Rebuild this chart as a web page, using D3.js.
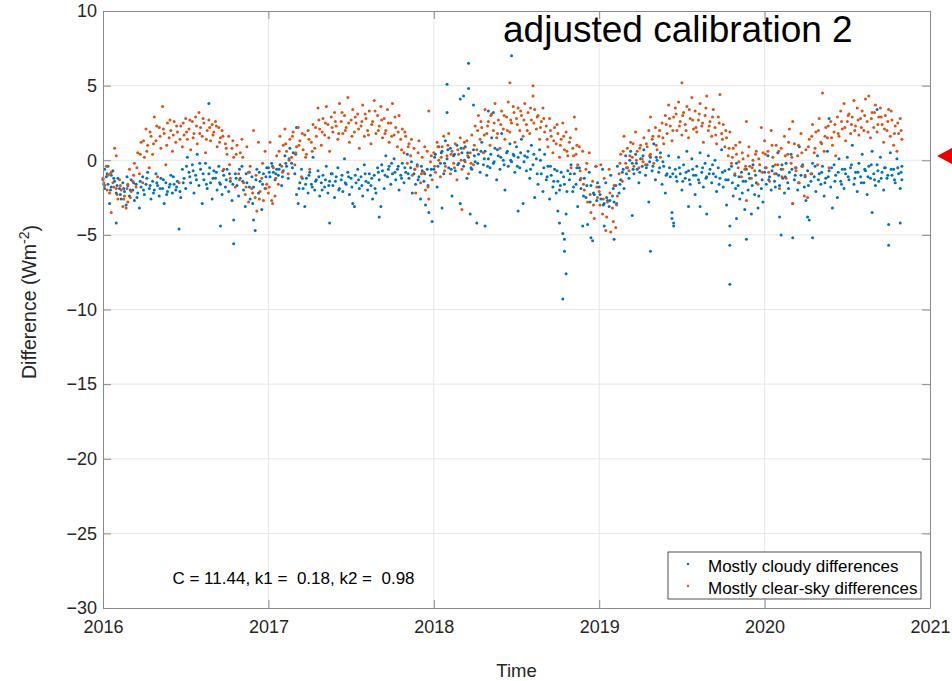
<!DOCTYPE html>
<meta charset="utf-8">

<!-- Load d3.js -->
<script src="https://d3js.org/d3.v7.min.js"></script>

<style>
body { margin: 0; background: #fff; }
svg text { font-family: "Liberation Sans", Arial, sans-serif; }
</style>

<div id="my_dataviz"></div>

<script>

// axis ticks
var xTicks = [2016, 2017, 2018, 2019, 2020, 2021];
var yTicks = [10, 5, 0, -5, -10, -15, -20, -25, -30];

// each point is [fraction of the year, difference in W m-2]
var cloudy2016 = [[0.00,-1.3],[0.01,-0.6],[0.01,-1.9],[0.02,-1.1],[0.03,-0.4],[0.03,-1.6],[0.04,-2.9],[0.05,-1.0],[0.05,-1.8],[0.06,-0.7],[0.07,-1.4],[0.08,-4.2],[0.08,-2.2],[0.09,-1.2],[0.10,-1.9],[0.11,-2.6],[0.12,-1.5],[0.13,-2.1],[0.14,-3.0],[0.15,-1.7],[0.16,-2.4],[0.17,-1.3],[0.18,-2.0],[0.19,-2.7],[0.20,-1.6],[0.21,-2.2],[0.22,-3.2],[0.23,-1.8],[0.24,-1.1],[0.25,-2.3],[0.26,-1.6],[0.27,-0.8],[0.28,-1.9],[0.29,-2.6],[0.30,-1.4],[0.31,-2.0],[0.32,-0.9],[0.33,-1.7],[0.34,-2.4],[0.35,-1.2],[0.36,-1.9],[0.37,-2.9],[0.38,-1.5],[0.39,-2.1],[0.40,-1.8],[0.41,-1.0],[0.42,-2.2],[0.43,-1.6],[0.44,-2.0],[0.45,-1.4],[0.46,-4.6],[0.47,-2.5],[0.48,-0.6],[0.49,-1.2],[0.50,-1.9],[0.51,0.2],[0.52,-0.8],[0.53,-1.5],[0.54,-0.3],[0.55,-2.2],[0.56,-1.0],[0.57,0.4],[0.58,-1.7],[0.59,-0.6],[0.60,-2.9],[0.61,-1.3],[0.62,-0.2],[0.63,-1.9],[0.64,3.8],[0.64,-0.9],[0.65,-1.5],[0.66,-2.6],[0.67,-0.7],[0.68,-1.2],[0.69,-2.0],[0.70,-0.4],[0.71,-4.4],[0.71,-1.6],[0.72,-2.3],[0.73,-1.0],[0.74,-1.8],[0.75,-0.6],[0.76,-2.1],[0.77,-1.4],[0.78,-2.7],[0.79,-5.6],[0.79,-4.0],[0.80,-0.9],[0.81,-1.7],[0.82,-2.4],[0.83,-1.2],[0.84,-0.4],[0.85,-2.0],[0.86,-3.1],[0.87,-1.5],[0.88,-0.8],[0.89,-2.6],[0.90,-1.1],[0.91,-4.0],[0.91,-1.8],[0.92,-4.7],[0.93,-0.6],[0.94,-2.2],[0.95,-1.4],[0.96,-3.3],[0.97,-0.9],[0.98,-1.9],[0.99,-0.5]];
var cloudy2016b = [[0.005,-1.6],[0.025,-0.9],[0.045,-2.0],[0.065,-1.2],[0.085,-1.7],[0.105,-2.3],[0.125,-1.9],[0.145,-1.1],[0.165,-2.0],[0.185,-1.5],[0.205,-2.5],[0.225,-1.4],[0.245,-2.0],[0.265,-1.2],[0.285,-1.7],[0.305,-2.2],[0.325,-1.5],[0.345,-1.9],[0.365,-1.3],[0.385,-2.3],[0.405,-1.6],[0.425,-1.1],[0.445,-1.8],[0.465,-2.1],[0.485,-1.5],[0.505,-0.4],[0.525,-1.1],[0.545,-0.7],[0.565,-1.3],[0.585,-0.2],[0.605,-0.9],[0.625,-1.6],[0.645,-0.5],[0.665,-1.2],[0.685,-0.8],[0.705,-1.5],[0.725,-0.7],[0.745,-1.3],[0.765,-0.9],[0.785,-1.6],[0.805,-1.2],[0.825,-0.6],[0.845,-1.4],[0.865,-0.9],[0.885,-1.8],[0.905,-2.9],[0.925,-1.3],[0.945,-0.8],[0.965,-1.6],[0.985,-1.1]];
var cloudy2017 = [[0.00,-0.5],[0.01,-1.1],[0.02,-0.2],[0.03,-0.8],[0.04,-1.3],[0.05,-0.6],[0.06,-1.0],[0.07,-0.3],[0.08,-1.7],[0.09,-0.7],[0.10,0.3],[0.11,-0.4],[0.12,-1.2],[0.13,0.8],[0.14,-0.2],[0.15,0.5],[0.16,-0.9],[0.17,2.2],[0.17,-2.3],[0.18,-2.9],[0.19,-1.5],[0.20,-0.6],[0.21,-1.9],[0.22,-3.1],[0.23,-1.2],[0.24,-2.2],[0.25,-0.8],[0.26,-1.6],[0.27,0.2],[0.28,-2.0],[0.29,-1.3],[0.30,-0.7],[0.31,-2.4],[0.32,-1.5],[0.33,-1.0],[0.34,-1.8],[0.35,-0.4],[0.36,-2.2],[0.37,-4.2],[0.37,-1.4],[0.38,-0.9],[0.39,-1.7],[0.40,-2.5],[0.41,-1.1],[0.42,-0.5],[0.43,-1.9],[0.44,-1.3],[0.45,-2.1],[0.46,0.1],[0.47,-1.6],[0.48,-0.8],[0.49,-2.3],[0.50,-1.2],[0.51,-2.9],[0.52,-3.1],[0.53,-1.5],[0.54,-0.6],[0.55,-1.9],[0.56,-1.1],[0.57,-2.4],[0.58,-0.3],[0.59,-1.4],[0.60,-2.0],[0.61,-0.9],[0.62,-1.7],[0.63,-2.6],[0.64,-1.0],[0.65,-2.2],[0.66,-0.5],[0.67,-3.8],[0.67,-1.3],[0.68,-3.1],[0.69,-0.7],[0.70,-1.9],[0.71,0.3],[0.72,-1.1],[0.73,-0.4],[0.74,-1.6],[0.75,-0.9],[0.76,0.1],[0.77,-1.3],[0.78,-0.6],[0.79,-2.0],[0.80,-1.0],[0.81,-0.2],[0.82,-1.5],[0.83,-0.8],[0.84,0.4],[0.85,-1.2],[0.86,-0.5],[0.87,-2.2],[0.88,-0.9],[0.89,-1.6],[0.90,-0.3],[0.91,-1.1],[0.92,-2.6],[0.93,-0.7],[0.94,-1.4],[0.95,-3.0],[0.96,-0.6],[0.97,-3.5],[0.98,-1.0],[0.99,-4.1]];
var cloudy2017b = [[0.005,-0.8],[0.025,-0.4],[0.045,-0.9],[0.065,-0.6],[0.085,-1.1],[0.105,-0.2],[0.125,0.1],[0.145,-0.5],[0.165,0.4],[0.185,-1.9],[0.205,-1.2],[0.225,-1.6],[0.245,-1.0],[0.265,-1.8],[0.285,-1.4],[0.305,-1.1],[0.325,-2.0],[0.345,-1.3],[0.365,-1.7],[0.385,-0.9],[0.405,-1.4],[0.425,-2.0],[0.445,-1.0],[0.465,-1.5],[0.485,-1.1],[0.505,-1.8],[0.525,-1.0],[0.545,-1.3],[0.565,-1.7],[0.585,-0.9],[0.605,-1.5],[0.625,-1.2],[0.645,-1.9],[0.665,-0.8],[0.685,-0.3],[0.705,-1.0],[0.725,-0.6],[0.745,-0.2],[0.765,-0.8],[0.785,-0.4],[0.805,-1.2],[0.825,-0.5],[0.845,-0.9],[0.865,-0.1],[0.885,-0.6],[0.905,-1.3],[0.925,-0.4],[0.945,-0.9],[0.965,-1.7],[0.985,-0.6]];
var cloudy2018 = [[0.00,-0.6],[0.01,0.4],[0.02,-1.8],[0.03,0.9],[0.04,-0.2],[0.05,-3.2],[0.05,0.6],[0.06,-0.9],[0.07,1.3],[0.08,5.1],[0.08,3.2],[0.08,0.1],[0.09,-0.5],[0.10,0.8],[0.11,-2.4],[0.12,0.3],[0.13,-0.7],[0.14,1.0],[0.15,-0.2],[0.16,4.1],[0.16,-2.9],[0.17,0.5],[0.18,4.3],[0.18,-0.4],[0.19,0.9],[0.20,-1.2],[0.21,6.5],[0.21,4.8],[0.21,0.2],[0.22,-3.6],[0.23,-0.6],[0.24,3.7],[0.24,0.7],[0.25,-0.1],[0.26,-4.2],[0.27,0.4],[0.28,-0.8],[0.29,1.2],[0.30,-0.3],[0.31,-4.4],[0.31,0.6],[0.32,-1.0],[0.33,3.3],[0.33,0.1],[0.34,-0.5],[0.35,1.5],[0.36,3.2],[0.36,-0.2],[0.37,0.8],[0.38,-1.3],[0.39,0.3],[0.40,-0.6],[0.41,1.8],[0.42,0.0],[0.43,-2.0],[0.44,0.5],[0.45,-0.4],[0.46,1.1],[0.47,7.0],[0.47,-0.1],[0.48,0.4],[0.49,-0.8],[0.50,0.9],[0.51,-3.4],[0.51,0.2],[0.52,-0.5],[0.53,1.4],[0.54,-2.9],[0.55,0.3],[0.56,-0.7],[0.57,0.6],[0.58,-1.2],[0.59,1.0],[0.60,-0.3],[0.61,-2.5],[0.62,0.1],[0.63,-1.6],[0.64,0.7],[0.65,-0.9],[0.66,-2.1],[0.67,0.4],[0.68,-1.3],[0.69,-0.4],[0.70,-2.6],[0.71,-1.0],[0.72,-1.8],[0.73,-0.6],[0.74,-2.2],[0.75,-3.4],[0.75,-1.4],[0.76,-4.2],[0.76,-2.0],[0.77,-0.8],[0.78,-4.9],[0.78,-9.3],[0.79,-5.3],[0.79,-6.1],[0.79,-1.6],[0.80,-7.6],[0.80,-3.6],[0.81,-0.7],[0.82,-1.3],[0.83,-0.3],[0.84,-2.1],[0.85,-0.9],[0.86,-1.6],[0.87,-3.1],[0.88,-0.5],[0.89,-1.9],[0.90,-4.4],[0.91,-1.2],[0.92,-2.5],[0.93,-4.3],[0.94,-0.8],[0.95,-5.2],[0.95,-1.7],[0.96,-5.4],[0.97,-2.3],[0.98,-0.4],[0.99,-1.5]];
var cloudy2018b = [[0.005,0.2],[0.025,-0.4],[0.045,0.5],[0.065,-0.2],[0.085,0.7],[0.105,-0.6],[0.125,0.4],[0.145,-0.3],[0.165,0.8],[0.185,0.0],[0.205,0.5],[0.225,-0.5],[0.245,0.3],[0.265,-0.2],[0.285,0.6],[0.305,0.1],[0.325,-0.4],[0.345,0.4],[0.365,-0.1],[0.385,0.7],[0.405,0.2],[0.425,-0.3],[0.445,0.6],[0.465,0.0],[0.485,0.3],[0.505,-0.4],[0.525,0.5],[0.545,-0.1],[0.565,0.2],[0.585,-0.6],[0.605,0.4],[0.625,-0.9],[0.645,0.0],[0.665,-0.5],[0.685,-1.1],[0.705,-0.4],[0.725,-1.4],[0.745,-0.7],[0.765,-1.7],[0.785,-1.1],[0.805,-2.1],[0.825,-0.9],[0.845,-1.8],[0.865,-0.5],[0.885,-1.3],[0.905,-2.4],[0.925,-1.7],[0.945,-2.8],[0.965,-2.2],[0.985,-2.7]];
var cloudy2019 = [[0.00,-1.8],[0.01,-2.6],[0.02,-0.6],[0.03,-4.4],[0.03,-2.9],[0.04,-1.5],[0.05,-2.7],[0.06,-3.1],[0.07,-1.0],[0.08,-2.4],[0.09,-5.3],[0.09,-2.8],[0.10,-1.7],[0.11,-0.4],[0.12,-2.2],[0.13,-1.3],[0.14,-0.8],[0.15,-1.9],[0.16,0.3],[0.17,-0.5],[0.18,-1.2],[0.19,0.6],[0.20,-3.7],[0.20,-0.2],[0.21,-0.9],[0.22,0.4],[0.23,-0.6],[0.24,-1.5],[0.25,0.1],[0.26,-0.4],[0.27,0.7],[0.28,-1.0],[0.29,-0.3],[0.30,-2.8],[0.31,-6.1],[0.31,0.2],[0.32,-0.7],[0.33,1.1],[0.34,-1.3],[0.35,0.0],[0.36,-0.8],[0.37,0.5],[0.38,-1.6],[0.39,-0.4],[0.40,-2.2],[0.41,-0.9],[0.42,0.3],[0.43,-1.1],[0.44,-3.5],[0.44,-3.9],[0.45,-4.2],[0.45,-4.4],[0.46,-0.6],[0.47,-1.4],[0.48,0.2],[0.49,-0.9],[0.50,-2.0],[0.51,-0.3],[0.52,-1.2],[0.53,0.6],[0.54,-3.1],[0.54,-0.7],[0.55,-1.6],[0.56,0.1],[0.57,-1.0],[0.58,-2.3],[0.59,-0.4],[0.60,-1.3],[0.61,-3.1],[0.61,0.5],[0.62,-0.8],[0.63,-1.8],[0.64,-0.2],[0.65,-3.6],[0.65,-1.1],[0.66,0.3],[0.67,-0.6],[0.68,-1.5],[0.69,-0.9],[0.70,0.0],[0.71,-2.1],[0.72,-0.5],[0.73,-1.2],[0.74,0.7],[0.75,-1.8],[0.76,-0.7],[0.77,-3.0],[0.78,-1.3],[0.79,-4.4],[0.79,-5.7],[0.79,-8.3],[0.80,-0.4],[0.81,-2.4],[0.82,-1.0],[0.83,-3.9],[0.83,-0.2],[0.84,-1.7],[0.85,-2.6],[0.86,-0.8],[0.87,-1.4],[0.88,-3.3],[0.89,-5.3],[0.89,-0.6],[0.90,-2.0],[0.91,-1.2],[0.92,-3.6],[0.93,-0.3],[0.94,-2.3],[0.95,-1.5],[0.96,-3.2],[0.97,-0.7],[0.98,-1.9],[0.99,-2.8]];
var cloudy2019b = [[0.005,-2.3],[0.025,-3.0],[0.045,-2.5],[0.065,-2.7],[0.085,-1.9],[0.105,-2.9],[0.125,-1.6],[0.145,-0.6],[0.165,-0.9],[0.185,0.0],[0.205,-0.6],[0.225,-0.2],[0.245,-0.8],[0.265,0.3],[0.285,-0.5],[0.305,-0.1],[0.325,-0.4],[0.345,0.2],[0.365,-0.5],[0.385,-0.1],[0.405,-1.0],[0.425,-0.5],[0.445,-0.9],[0.465,-1.1],[0.485,-0.5],[0.505,-1.4],[0.525,-0.8],[0.545,-1.3],[0.565,-0.6],[0.585,-1.0],[0.605,-1.5],[0.625,-0.5],[0.645,-1.2],[0.665,-0.9],[0.685,-0.3],[0.705,-1.1],[0.725,-1.6],[0.745,-0.8],[0.765,-1.3],[0.785,-0.6],[0.805,-1.5],[0.825,-1.9],[0.845,-1.1],[0.865,-2.2],[0.885,-1.4],[0.905,-0.9],[0.925,-1.7],[0.945,-1.0],[0.965,-2.4],[0.985,-1.3]];
var cloudy2020 = [[0.00,-0.8],[0.01,-1.6],[0.02,0.3],[0.03,-1.1],[0.04,-2.0],[0.05,-0.4],[0.06,-1.4],[0.07,-0.9],[0.08,0.5],[0.09,-3.8],[0.09,-1.7],[0.10,-5.0],[0.10,-0.6],[0.11,-1.2],[0.12,-2.2],[0.13,-0.2],[0.14,-1.5],[0.15,-0.8],[0.16,0.4],[0.17,-2.9],[0.17,-5.2],[0.18,-1.3],[0.19,-0.5],[0.20,-2.0],[0.21,0.9],[0.22,-1.0],[0.23,-0.3],[0.24,-1.8],[0.25,-2.7],[0.26,-3.8],[0.26,-0.7],[0.27,-4.0],[0.28,-1.4],[0.29,-5.2],[0.29,-0.2],[0.30,-1.1],[0.31,-2.1],[0.32,0.3],[0.33,-0.9],[0.34,-1.6],[0.35,-0.4],[0.36,-2.4],[0.37,-1.2],[0.38,0.6],[0.39,2.8],[0.39,-0.7],[0.40,-1.8],[0.41,-3.2],[0.42,-0.3],[0.43,-1.0],[0.44,-2.5],[0.45,0.1],[0.46,-1.4],[0.47,-0.6],[0.48,-1.9],[0.49,-0.9],[0.50,0.2],[0.51,-1.3],[0.52,-0.5],[0.53,1.0],[0.54,-1.6],[0.55,-0.8],[0.56,-2.1],[0.57,-0.2],[0.58,-1.1],[0.59,0.4],[0.60,-1.5],[0.61,-0.7],[0.62,-2.3],[0.63,-0.4],[0.64,-1.2],[0.65,-3.5],[0.65,0.6],[0.66,-0.9],[0.67,-1.7],[0.68,3.4],[0.68,-0.3],[0.69,-1.4],[0.70,0.2],[0.71,-0.8],[0.72,-2.0],[0.73,-0.5],[0.74,-1.2],[0.75,-4.3],[0.75,-5.7],[0.76,0.5],[0.77,-1.0],[0.78,-0.6],[0.79,-1.5],[0.80,0.1],[0.81,-0.9],[0.82,-4.2],[0.82,-1.9],[0.83,-0.4],[0.83,-1.3]];
var cloudy2020b = [[0.005,-0.5],[0.025,-1.3],[0.045,-0.7],[0.065,-1.8],[0.085,-1.0],[0.105,-0.3],[0.125,-1.1],[0.145,-1.9],[0.165,-0.6],[0.185,-1.0],[0.205,-1.5],[0.225,-0.4],[0.245,-1.1],[0.265,-1.7],[0.285,-0.9],[0.305,-0.4],[0.325,-1.3],[0.345,-0.8],[0.365,-1.5],[0.385,-1.1],[0.405,-0.5],[0.425,-1.4],[0.445,-0.8],[0.465,-1.6],[0.485,-0.6],[0.505,-1.1],[0.525,-0.3],[0.545,-1.2],[0.565,-0.8],[0.585,-1.5],[0.605,-0.6],[0.625,-1.1],[0.645,-0.3],[0.665,-1.3],[0.685,-0.7],[0.705,-1.2],[0.725,-0.5],[0.745,-1.0],[0.765,-0.6],[0.785,-1.3],[0.805,-0.5],[0.825,-0.8]];

var clear2016 = [[0.00,-1.2],[0.01,-1.7],[0.02,-0.4],[0.03,-1.0],[0.04,-2.2],[0.05,-3.5],[0.05,-0.8],[0.06,-1.5],[0.07,0.8],[0.08,0.3],[0.08,-1.9],[0.09,-2.6],[0.10,-1.3],[0.11,-2.0],[0.12,-3.1],[0.13,-2.4],[0.14,-3.2],[0.15,-2.8],[0.15,-1.6],[0.16,-0.6],[0.17,-2.1],[0.18,-1.4],[0.19,-0.2],[0.20,-1.8],[0.21,0.5],[0.22,-0.9],[0.23,1.2],[0.24,-1.5],[0.25,0.2],[0.26,2.1],[0.27,1.0],[0.28,-0.5],[0.29,1.6],[0.30,0.4],[0.31,2.9],[0.32,1.3],[0.33,-1.1],[0.34,2.2],[0.35,0.8],[0.36,3.6],[0.37,1.8],[0.38,-0.3],[0.39,2.5],[0.40,1.5],[0.41,2.0],[0.42,0.6],[0.43,2.6],[0.44,1.2],[0.45,1.9],[0.46,-1.5],[0.47,2.3],[0.48,0.9],[0.49,1.7],[0.50,2.8],[0.51,1.4],[0.52,2.1],[0.53,0.7],[0.54,2.6],[0.55,1.8],[0.56,2.9],[0.57,1.1],[0.58,3.2],[0.59,2.2],[0.60,1.6],[0.61,2.5],[0.62,0.5],[0.63,2.0],[0.64,2.7],[0.65,1.3],[0.66,2.4],[0.67,1.9],[0.68,2.6],[0.69,0.9],[0.70,2.2],[0.71,1.5],[0.72,2.0],[0.73,-0.6],[0.74,1.1],[0.75,0.4],[0.76,1.6],[0.77,-1.2],[0.78,0.8],[0.79,0.2],[0.80,-1.8],[0.81,1.0],[0.82,-0.9],[0.83,0.5],[0.84,1.4],[0.85,-1.5],[0.86,-2.3],[0.87,0.9],[0.88,-2.8],[0.89,-0.4],[0.90,-1.9],[0.91,2.0],[0.92,-2.5],[0.93,-3.4],[0.94,1.2],[0.95,-2.1],[0.96,-1.2],[0.97,-2.7],[0.98,0.6],[0.99,-1.6]];
var clear2016b = [[0.005,-1.5],[0.025,-2.0],[0.045,-0.9],[0.065,-1.8],[0.085,-2.3],[0.105,-1.7],[0.125,-2.6],[0.145,-1.9],[0.165,-2.5],[0.185,-1.0],[0.205,-0.5],[0.225,0.4],[0.245,1.3],[0.265,0.6],[0.285,1.9],[0.305,1.1],[0.325,2.3],[0.345,1.6],[0.365,2.1],[0.385,1.0],[0.405,2.7],[0.425,1.7],[0.445,2.3],[0.465,1.4],[0.485,2.5],[0.505,1.9],[0.525,2.7],[0.545,1.5],[0.565,2.3],[0.585,1.8],[0.605,2.8],[0.625,1.4],[0.645,2.2],[0.665,1.7],[0.685,2.3],[0.705,1.2],[0.725,1.6],[0.745,0.8],[0.765,-0.3],[0.785,1.3],[0.805,0.4],[0.825,-1.3],[0.845,0.2],[0.865,-1.8],[0.885,-0.8],[0.905,-2.2],[0.925,-1.0],[0.945,-2.6],[0.965,-0.2],[0.985,-1.9]];
var clear2017 = [[0.00,-2.2],[0.01,1.2],[0.02,-2.7],[0.03,-0.5],[0.04,-2.4],[0.05,0.3],[0.06,-1.6],[0.07,1.6],[0.08,-0.4],[0.09,1.0],[0.10,2.1],[0.11,0.6],[0.12,-0.9],[0.13,1.4],[0.14,0.2],[0.15,1.9],[0.16,-0.3],[0.17,0.9],[0.18,2.2],[0.19,1.3],[0.20,-1.1],[0.21,0.7],[0.22,1.7],[0.23,0.4],[0.24,2.0],[0.25,-0.6],[0.26,1.2],[0.27,2.4],[0.28,0.8],[0.29,1.6],[0.30,3.5],[0.31,2.1],[0.32,1.0],[0.33,2.8],[0.34,1.7],[0.35,3.6],[0.36,2.4],[0.37,0.6],[0.38,2.9],[0.39,1.9],[0.40,3.2],[0.41,2.3],[0.42,1.4],[0.43,3.8],[0.44,2.6],[0.45,1.8],[0.46,3.0],[0.47,2.2],[0.48,4.2],[0.49,1.2],[0.50,2.7],[0.51,3.4],[0.52,1.9],[0.53,2.5],[0.54,3.1],[0.55,0.8],[0.56,2.3],[0.57,3.7],[0.58,1.6],[0.59,2.8],[0.60,2.0],[0.61,3.3],[0.62,1.1],[0.63,2.6],[0.64,4.0],[0.65,1.8],[0.66,3.0],[0.67,2.3],[0.68,3.6],[0.69,1.5],[0.70,2.8],[0.71,2.0],[0.72,3.4],[0.73,1.2],[0.74,2.5],[0.75,3.8],[0.76,1.7],[0.77,2.2],[0.78,0.9],[0.79,3.0],[0.80,1.4],[0.81,2.1],[0.82,0.5],[0.83,1.6],[0.84,-0.2],[0.85,1.1],[0.86,0.3],[0.87,-1.0],[0.88,0.8],[0.89,-2.2],[0.90,-0.4],[0.91,1.3],[0.92,-1.5],[0.93,0.2],[0.94,-0.8],[0.95,-2.0],[0.96,0.6],[0.97,3.3],[0.97,-2.6],[0.98,-0.1],[0.99,-1.3]];
var clear2017b = [[0.005,-1.8],[0.025,-2.9],[0.045,-1.2],[0.065,0.6],[0.085,-0.8],[0.105,1.1],[0.125,0.0],[0.145,1.6],[0.165,0.5],[0.185,1.0],[0.205,1.8],[0.225,0.2],[0.245,1.4],[0.265,0.6],[0.285,2.2],[0.305,2.7],[0.325,1.9],[0.345,2.5],[0.365,1.5],[0.385,2.2],[0.405,2.6],[0.425,1.8],[0.445,3.2],[0.465,2.0],[0.485,2.5],[0.505,1.6],[0.525,2.9],[0.545,2.1],[0.565,2.6],[0.585,3.1],[0.605,1.7],[0.625,2.4],[0.645,3.3],[0.665,2.0],[0.685,2.7],[0.705,1.8],[0.725,2.5],[0.745,1.6],[0.765,2.9],[0.785,1.9],[0.805,0.7],[0.825,1.9],[0.845,0.9],[0.865,1.4],[0.885,-0.6],[0.905,0.5],[0.925,-0.9],[0.945,0.9],[0.965,-1.8],[0.985,0.3]];
var clear2018 = [[0.00,0.5],[0.01,-0.8],[0.02,1.2],[0.03,0.0],[0.04,-1.1],[0.05,0.9],[0.06,1.6],[0.07,-0.4],[0.08,0.3],[0.09,1.8],[0.10,-0.9],[0.11,0.6],[0.12,-0.2],[0.13,1.1],[0.14,-1.3],[0.15,0.4],[0.16,1.5],[0.17,-3.3],[0.17,-0.6],[0.18,0.8],[0.19,-0.1],[0.20,1.3],[0.21,-0.9],[0.22,0.5],[0.23,1.7],[0.24,-0.3],[0.25,2.3],[0.26,0.7],[0.27,3.0],[0.28,1.4],[0.29,2.2],[0.30,0.5],[0.31,3.4],[0.32,1.8],[0.33,2.6],[0.34,1.0],[0.35,3.1],[0.36,2.0],[0.37,3.8],[0.38,1.5],[0.39,2.7],[0.40,0.8],[0.41,3.3],[0.42,2.1],[0.43,1.4],[0.44,2.9],[0.45,3.9],[0.46,5.2],[0.46,1.9],[0.47,2.5],[0.48,3.6],[0.49,1.2],[0.50,2.8],[0.51,3.5],[0.52,2.0],[0.53,3.0],[0.54,1.6],[0.55,3.8],[0.56,2.4],[0.57,3.2],[0.58,1.8],[0.59,2.7],[0.60,5.0],[0.60,4.3],[0.61,3.4],[0.62,2.1],[0.63,3.0],[0.64,1.4],[0.65,2.6],[0.66,3.5],[0.67,1.9],[0.68,2.3],[0.69,0.9],[0.70,2.8],[0.71,1.6],[0.72,0.5],[0.73,2.2],[0.74,1.1],[0.75,1.8],[0.76,0.2],[0.77,1.4],[0.78,2.5],[0.79,0.7],[0.80,1.9],[0.81,0.3],[0.82,1.2],[0.83,-0.5],[0.84,0.8],[0.85,2.9],[0.86,2.1],[0.86,0.4],[0.87,-0.3],[0.88,0.9],[0.89,-1.2],[0.90,0.6],[0.91,-2.0],[0.92,-0.6],[0.93,-2.8],[0.94,0.5],[0.95,-3.5],[0.96,-1.4],[0.97,-3.9],[0.98,-0.4],[0.99,-2.5]];
var clear2018b = [[0.005,-0.4],[0.025,0.9],[0.045,0.2],[0.065,-0.7],[0.085,1.0],[0.105,0.4],[0.125,-0.5],[0.145,0.7],[0.165,0.0],[0.185,1.2],[0.205,0.3],[0.225,-0.2],[0.245,1.0],[0.265,2.0],[0.285,2.6],[0.305,1.7],[0.325,2.3],[0.345,3.0],[0.365,2.5],[0.385,1.8],[0.405,2.4],[0.425,3.0],[0.445,2.0],[0.465,2.7],[0.485,3.2],[0.505,2.4],[0.525,3.3],[0.545,2.7],[0.565,2.0],[0.585,3.5],[0.605,2.5],[0.625,2.9],[0.645,2.2],[0.665,2.8],[0.685,1.4],[0.705,2.0],[0.725,1.3],[0.745,2.4],[0.765,1.0],[0.785,1.6],[0.805,0.6],[0.825,1.5],[0.845,0.3],[0.865,1.0],[0.885,-0.7],[0.905,-1.6],[0.925,-0.2],[0.945,-2.3],[0.965,-3.0],[0.985,-1.8]];
var clear2019 = [[0.00,-2.1],[0.01,-0.3],[0.02,-3.6],[0.03,-1.2],[0.04,-4.7],[0.05,-2.8],[0.06,-0.6],[0.07,-4.8],[0.08,-3.2],[0.09,-1.7],[0.10,-4.5],[0.11,-2.4],[0.12,-0.9],[0.13,0.4],[0.14,-1.4],[0.15,1.6],[0.16,-0.2],[0.17,0.8],[0.18,-0.7],[0.19,1.2],[0.20,0.2],[0.21,-0.4],[0.22,1.9],[0.23,0.6],[0.24,-0.5],[0.25,1.0],[0.26,0.1],[0.27,1.5],[0.28,-0.3],[0.29,0.9],[0.30,2.0],[0.31,2.9],[0.31,0.4],[0.32,1.4],[0.33,-0.2],[0.34,2.2],[0.35,0.7],[0.36,1.6],[0.37,0.2],[0.38,2.5],[0.39,1.1],[0.40,3.0],[0.41,1.8],[0.42,3.7],[0.43,2.3],[0.44,1.3],[0.45,2.9],[0.46,3.5],[0.47,2.0],[0.48,3.9],[0.49,2.6],[0.50,5.2],[0.50,1.7],[0.51,3.2],[0.52,2.4],[0.53,3.6],[0.54,1.5],[0.55,2.8],[0.56,4.2],[0.57,2.1],[0.58,3.3],[0.59,1.9],[0.60,2.7],[0.61,3.8],[0.62,2.3],[0.63,1.2],[0.64,3.0],[0.65,4.3],[0.66,2.0],[0.67,2.6],[0.68,1.6],[0.69,3.4],[0.70,2.2],[0.71,1.1],[0.72,2.9],[0.73,4.4],[0.74,1.8],[0.75,2.4],[0.76,0.9],[0.77,1.5],[0.78,0.3],[0.79,1.9],[0.80,-0.2],[0.81,0.8],[0.82,-0.9],[0.83,0.4],[0.84,-0.5],[0.85,1.2],[0.86,-1.1],[0.87,0.1],[0.88,-0.6],[0.89,2.6],[0.89,-2.7],[0.90,0.3],[0.91,-0.4],[0.92,-1.2],[0.93,0.0],[0.94,-0.7],[0.95,0.6],[0.96,-1.6],[0.97,-0.3],[0.98,2.2],[0.99,0.5]];
var clear2019b = [[0.005,-3.0],[0.025,-2.6],[0.045,-3.8],[0.065,-2.2],[0.085,-4.1],[0.105,-3.0],[0.125,-0.2],[0.145,0.6],[0.165,-0.5],[0.185,0.3],[0.205,1.1],[0.225,0.0],[0.245,0.8],[0.265,-0.1],[0.285,1.1],[0.305,0.3],[0.325,1.6],[0.345,1.0],[0.365,2.0],[0.385,1.5],[0.405,2.4],[0.425,2.8],[0.445,2.0],[0.465,3.1],[0.485,2.3],[0.505,3.0],[0.525,2.0],[0.545,3.4],[0.565,2.7],[0.585,2.2],[0.605,3.1],[0.625,2.5],[0.645,3.5],[0.665,2.3],[0.685,2.9],[0.705,1.7],[0.725,2.5],[0.745,1.4],[0.765,2.0],[0.785,0.8],[0.805,0.2],[0.825,1.0],[0.845,-0.1],[0.865,0.5],[0.885,-0.4],[0.905,0.9],[0.925,-0.5],[0.945,0.4],[0.965,0.1],[0.985,-0.8]];
var clear2020 = [[0.00,1.3],[0.01,-0.5],[0.02,0.6],[0.03,-1.4],[0.04,2.0],[0.05,0.2],[0.06,-0.9],[0.07,1.0],[0.08,-0.3],[0.09,-1.9],[0.10,0.8],[0.11,-0.6],[0.12,1.6],[0.13,-1.2],[0.14,0.4],[0.15,2.1],[0.16,-0.2],[0.17,2.6],[0.17,-2.9],[0.18,1.1],[0.19,-0.7],[0.20,0.3],[0.21,-1.5],[0.22,1.8],[0.23,-0.4],[0.24,-2.4],[0.25,0.7],[0.26,-2.5],[0.27,1.4],[0.28,-0.9],[0.29,2.4],[0.30,0.5],[0.31,1.9],[0.32,-0.3],[0.33,2.8],[0.34,1.2],[0.35,4.5],[0.36,0.6],[0.37,2.2],[0.38,1.5],[0.39,-0.5],[0.40,2.6],[0.41,1.0],[0.42,1.9],[0.43,0.3],[0.44,2.9],[0.45,1.6],[0.46,3.3],[0.47,2.1],[0.48,3.8],[0.49,1.3],[0.50,2.6],[0.51,3.1],[0.52,1.8],[0.53,2.9],[0.54,4.0],[0.55,2.3],[0.56,3.5],[0.57,1.7],[0.58,2.8],[0.59,3.3],[0.60,2.0],[0.61,4.1],[0.62,2.6],[0.63,4.3],[0.64,1.5],[0.65,3.2],[0.66,2.2],[0.67,3.7],[0.68,1.9],[0.69,2.9],[0.70,3.5],[0.71,2.4],[0.72,1.2],[0.73,3.0],[0.74,2.0],[0.75,3.4],[0.76,1.6],[0.77,2.7],[0.78,1.0],[0.79,2.3],[0.80,0.6],[0.81,1.8],[0.82,2.8],[0.83,1.4]];
var clear2020b = [[0.005,0.4],[0.025,-0.8],[0.045,1.0],[0.065,-0.3],[0.085,0.6],[0.105,-1.1],[0.125,0.3],[0.145,1.2],[0.165,0.2],[0.185,-0.5],[0.205,1.0],[0.225,0.5],[0.245,-1.0],[0.265,0.9],[0.285,1.6],[0.305,0.8],[0.325,2.0],[0.345,1.1],[0.365,1.6],[0.385,2.3],[0.405,1.5],[0.425,2.4],[0.445,1.8],[0.465,2.6],[0.485,2.2],[0.505,3.0],[0.525,2.4],[0.545,2.0],[0.565,2.7],[0.585,2.2],[0.605,3.0],[0.625,1.9],[0.645,2.8],[0.665,3.2],[0.685,2.4],[0.705,2.9],[0.725,2.1],[0.745,2.6],[0.765,3.3],[0.785,1.8],[0.805,2.5],[0.825,2.0]];

// join the years into one list per series
function joinYears(parts) {
  var out = [];
  parts.forEach(function(p) {
    p[1].forEach(function(d) { out.push({t: p[0] + d[0], v: d[1]}); });
  });
  return out;
}
var cloudy = joinYears([[2016, cloudy2016], [2016, cloudy2016b], [2017, cloudy2017], [2017, cloudy2017b],
  [2018, cloudy2018], [2018, cloudy2018b], [2019, cloudy2019], [2019, cloudy2019b], [2020, cloudy2020], [2020, cloudy2020b]]);
var clear = joinYears([[2016, clear2016], [2016, clear2016b], [2017, clear2017], [2017, clear2017b],
  [2018, clear2018], [2018, clear2018b], [2019, clear2019], [2019, clear2019b], [2020, clear2020], [2020, clear2020b]]);

var blue = "#0072BD", orange = "#D95319";

// dimensions
var margin = {top: 11, right: 22, bottom: 73, left: 103},
    width = 952 - margin.left - margin.right,
    height = 681 - margin.top - margin.bottom;

var svgRoot = d3.select("#my_dataviz")
  .append("svg")
    .attr("width", 952)
    .attr("height", 681);

var svg = svgRoot.append("g")
    .attr("transform", "translate(" + margin.left + "," + margin.top + ")");

var x = d3.scaleLinear().domain([2016, 2021]).range([0, width]);
var y = d3.scaleLinear().domain([-30, 10]).range([height, 0]);

// grid
svg.append("g").selectAll("line")
  .data(xTicks.slice(1, -1)).enter().append("line")
    .attr("x1", function(d) { return x(d); }).attr("x2", function(d) { return x(d); })
    .attr("y1", 0).attr("y2", height)
    .attr("stroke", "#e6e6e6");
svg.append("g").selectAll("line")
  .data(yTicks.slice(1, -1)).enter().append("line")
    .attr("x1", 0).attr("x2", width)
    .attr("y1", function(d) { return y(d); }).attr("y2", function(d) { return y(d); })
    .attr("stroke", "#e6e6e6");

// points
svg.append("g").selectAll("circle")
  .data(cloudy).enter().append("circle")
    .attr("cx", function(d) { return x(d.t); })
    .attr("cy", function(d) { return y(d.v); })
    .attr("r", 1.5)
    .attr("fill", blue);
svg.append("g").selectAll("circle")
  .data(clear).enter().append("circle")
    .attr("cx", function(d) { return x(d.t); })
    .attr("cy", function(d) { return y(d.v); })
    .attr("r", 1.5)
    .attr("fill", orange);

// axes (ticks inside, matlab style)
function styleAxis(g) {
  g.select(".domain").attr("stroke", "#8a8a8a");
  g.selectAll(".tick line").attr("stroke", "#8a8a8a");
  g.selectAll(".tick text").attr("fill", "#262626").style("font-size", "18px")
    .style("font-family", '"Liberation Sans", Arial, sans-serif');
}
svg.append("g")
  .attr("transform", "translate(0," + height + ")")
  .call(d3.axisBottom(x).tickValues(xTicks).tickFormat(d3.format("d")).tickSizeInner(-8).tickSizeOuter(0).tickPadding(12))
  .call(styleAxis);
svg.append("g")
  .call(d3.axisTop(x).tickValues(xTicks).tickFormat("").tickSizeInner(-8).tickSizeOuter(0))
  .call(styleAxis);
svg.append("g")
  .call(d3.axisLeft(y).tickValues(yTicks).tickSizeInner(-8).tickSizeOuter(0).tickPadding(6))
  .call(styleAxis);
svg.append("g")
  .attr("transform", "translate(" + width + ",0)")
  .call(d3.axisRight(y).tickValues(yTicks).tickFormat("").tickSizeInner(-8).tickSizeOuter(0))
  .call(styleAxis);

// axis labels
svg.append("text")
  .attr("x", width / 2)
  .attr("y", height + 69)
  .attr("text-anchor", "middle")
  .attr("fill", "#262626")
  .style("font-size", "18.5px")
  .text("Time");

var yl = svg.append("text")
  .attr("transform", "translate(-67,291) rotate(-90)")
  .attr("text-anchor", "middle")
  .attr("fill", "#262626")
  .style("font-size", "19.5px");
yl.append("tspan").text("Difference (Wm");
yl.append("tspan").attr("dy", "-0.5em").style("font-size", "14px").text("-2");
yl.append("tspan").attr("dy", "0.45em").text(")");

// annotation
svg.append("text")
  .attr("x", x(2016.42))
  .attr("y", y(-28.4))
  .attr("fill", "#000")
  .style("font-size", "17px")
  .style("white-space", "pre")
  .text("C = 11.44, k1 =  0.18, k2 =  0.98");

// title
svgRoot.append("text")
  .attr("x", 503)
  .attr("y", 42)
  .attr("fill", "#000")
  .style("font-size", "37px")
  .text("adjusted calibration 2");

// red arrow head on the right
svgRoot.append("path")
  .attr("d", "M937,156 L954,147 L954,165 Z")
  .attr("fill", "#ee0000");

// legend
var lg = svg.append("g").attr("transform", "translate(" + (668 - margin.left) + "," + (552 - margin.top) + ")");
lg.append("rect").attr("width", 253).attr("height", 47)
  .attr("fill", "#fff").attr("stroke", "#262626").attr("stroke-width", 0.8);
var items = [["Mostly cloudy differences", blue], ["Mostly clear-sky differences", orange]];
items.forEach(function(it, i) {
  lg.append("circle").attr("cx", 20).attr("cy", 12 + i * 22).attr("r", 1.2).attr("fill", it[1]);
  lg.append("text").attr("x", 40).attr("y", 20 + i * 22)
    .attr("fill", "#000").style("font-size", "17px").text(it[0]);
});

</script>
